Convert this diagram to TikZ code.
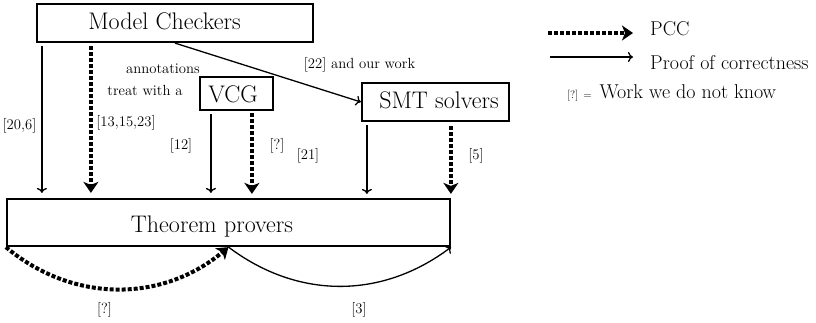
\documentclass[tikz,border=0pt]{standalone}
\usepackage{fontspec}
\usetikzlibrary{arrows.meta}
\begin{document}
\begin{tikzpicture}[x=1pt,y=-1pt,
  box/.style={draw, line width=2.2pt, inner sep=0pt, text depth=0pt,
    font=\fontsize{24}{28}\selectfont},
  lbl/.style={anchor=base, inner sep=0pt, font=\fontsize{14.7}{17}\selectfont},
  legendtext/.style={anchor=base west, inner sep=0pt, font=\fontsize{20}{23}\selectfont},
  proof/.style={line width=1.3pt, -{To[length=5pt,width=10pt]}},
  pcc/.style={line width=4pt, dash pattern=on 4pt off 2pt,
    -{Stealth[length=11pt,width=15pt,inset=3pt]}},
]
\useasboundingbox (0,0) rectangle (816,323);

% boxes (kerns keep the labels slightly off centre)
\node[box, minimum width=276pt, minimum height=38pt, text height=14pt]
  (MC) at (175,23) {Model Checkers\kern21pt};
\node[box, minimum width=73pt, minimum height=33pt, text height=19pt]
  (VCG) at (236.5,93.5) {VCG\kern7pt};
\node[box, minimum width=147pt, minimum height=38pt, text height=14pt]
  (SMT) at (435.5,102) {\kern7pt SMT solvers};
\node[box, minimum width=443pt, minimum height=47pt, text height=19pt]
  (TP) at (228.5,222.5) {Theorem provers\kern33pt};

% model checkers
\draw[proof, shorten <=3pt, shorten >=5pt]
  ([xshift=6pt]MC.south west) -- ([xshift=6pt]MC.south west |- TP.north);
\draw[pcc, shorten <=3pt, shorten >=5pt]
  ([xshift=55pt]MC.south west) -- ([xshift=55pt]MC.south west |- TP.north);
\draw[proof] (MC.south) -- (SMT.west);

% VCG
\draw[proof, shorten <=3pt, shorten >=5pt]
  ([xshift=12pt]VCG.south west) -- ([xshift=12pt]VCG.south west |- TP.north);
\draw[pcc, shorten <=2pt, shorten >=4pt]
  ([xshift=53pt]VCG.south west) -- ([xshift=53pt]VCG.south west |- TP.north);

% SMT solvers
\draw[proof, shorten <=3pt, shorten >=4pt]
  ([xshift=6pt]SMT.south west) -- ([xshift=6pt]SMT.south west |- TP.north);
\draw[pcc, shorten <=4pt, shorten >=4pt]
  ([xshift=90pt]SMT.south west) -- ([xshift=90pt]SMT.south west |- TP.north);

% theorem provers among themselves
\draw[pcc] (TP.south west) to[bend right=40] (TP.south);
\draw[proof] (TP.south) to[bend right=37] (TP.south east);

% labels
\node[lbl] at (19.5,129.5) {[20,6]};
\node[lbl] at (126,127) {[13,15,23]};
\node[lbl] at (163,74) {annotations};
\node[lbl] at (145,96) {treat with a};
\node[lbl] at (181,150) {[12]};
\node[lbl] at (277,150) {[?]};
\node[lbl] at (308,160) {[21]};
\node[lbl] at (476,160) {[5]};
\node[lbl] at (359.5,69) {[22] and our work};
\node[lbl] at (104.5,313) {[?]};
\node[lbl] at (359,313) {[3]};

% legend
\coordinate (pccA) at (548,33);
\coordinate (pccB) at (633,33);
\coordinate (prfA) at (550,57);
\coordinate (prfB) at (633,57);
\draw[pcc] (pccA) -- (pccB);
\draw[proof] (prfA) -- (prfB);
\node[legendtext] at (650,36) {PCC};
\node[legendtext] at (650,70) {Proof of correctness};
\node[legendtext] at (567,99)
  {{\fontsize{11}{13}\selectfont[?]\kern5pt=}\kern8pt Work we do not know};
\end{tikzpicture}
\end{document}
